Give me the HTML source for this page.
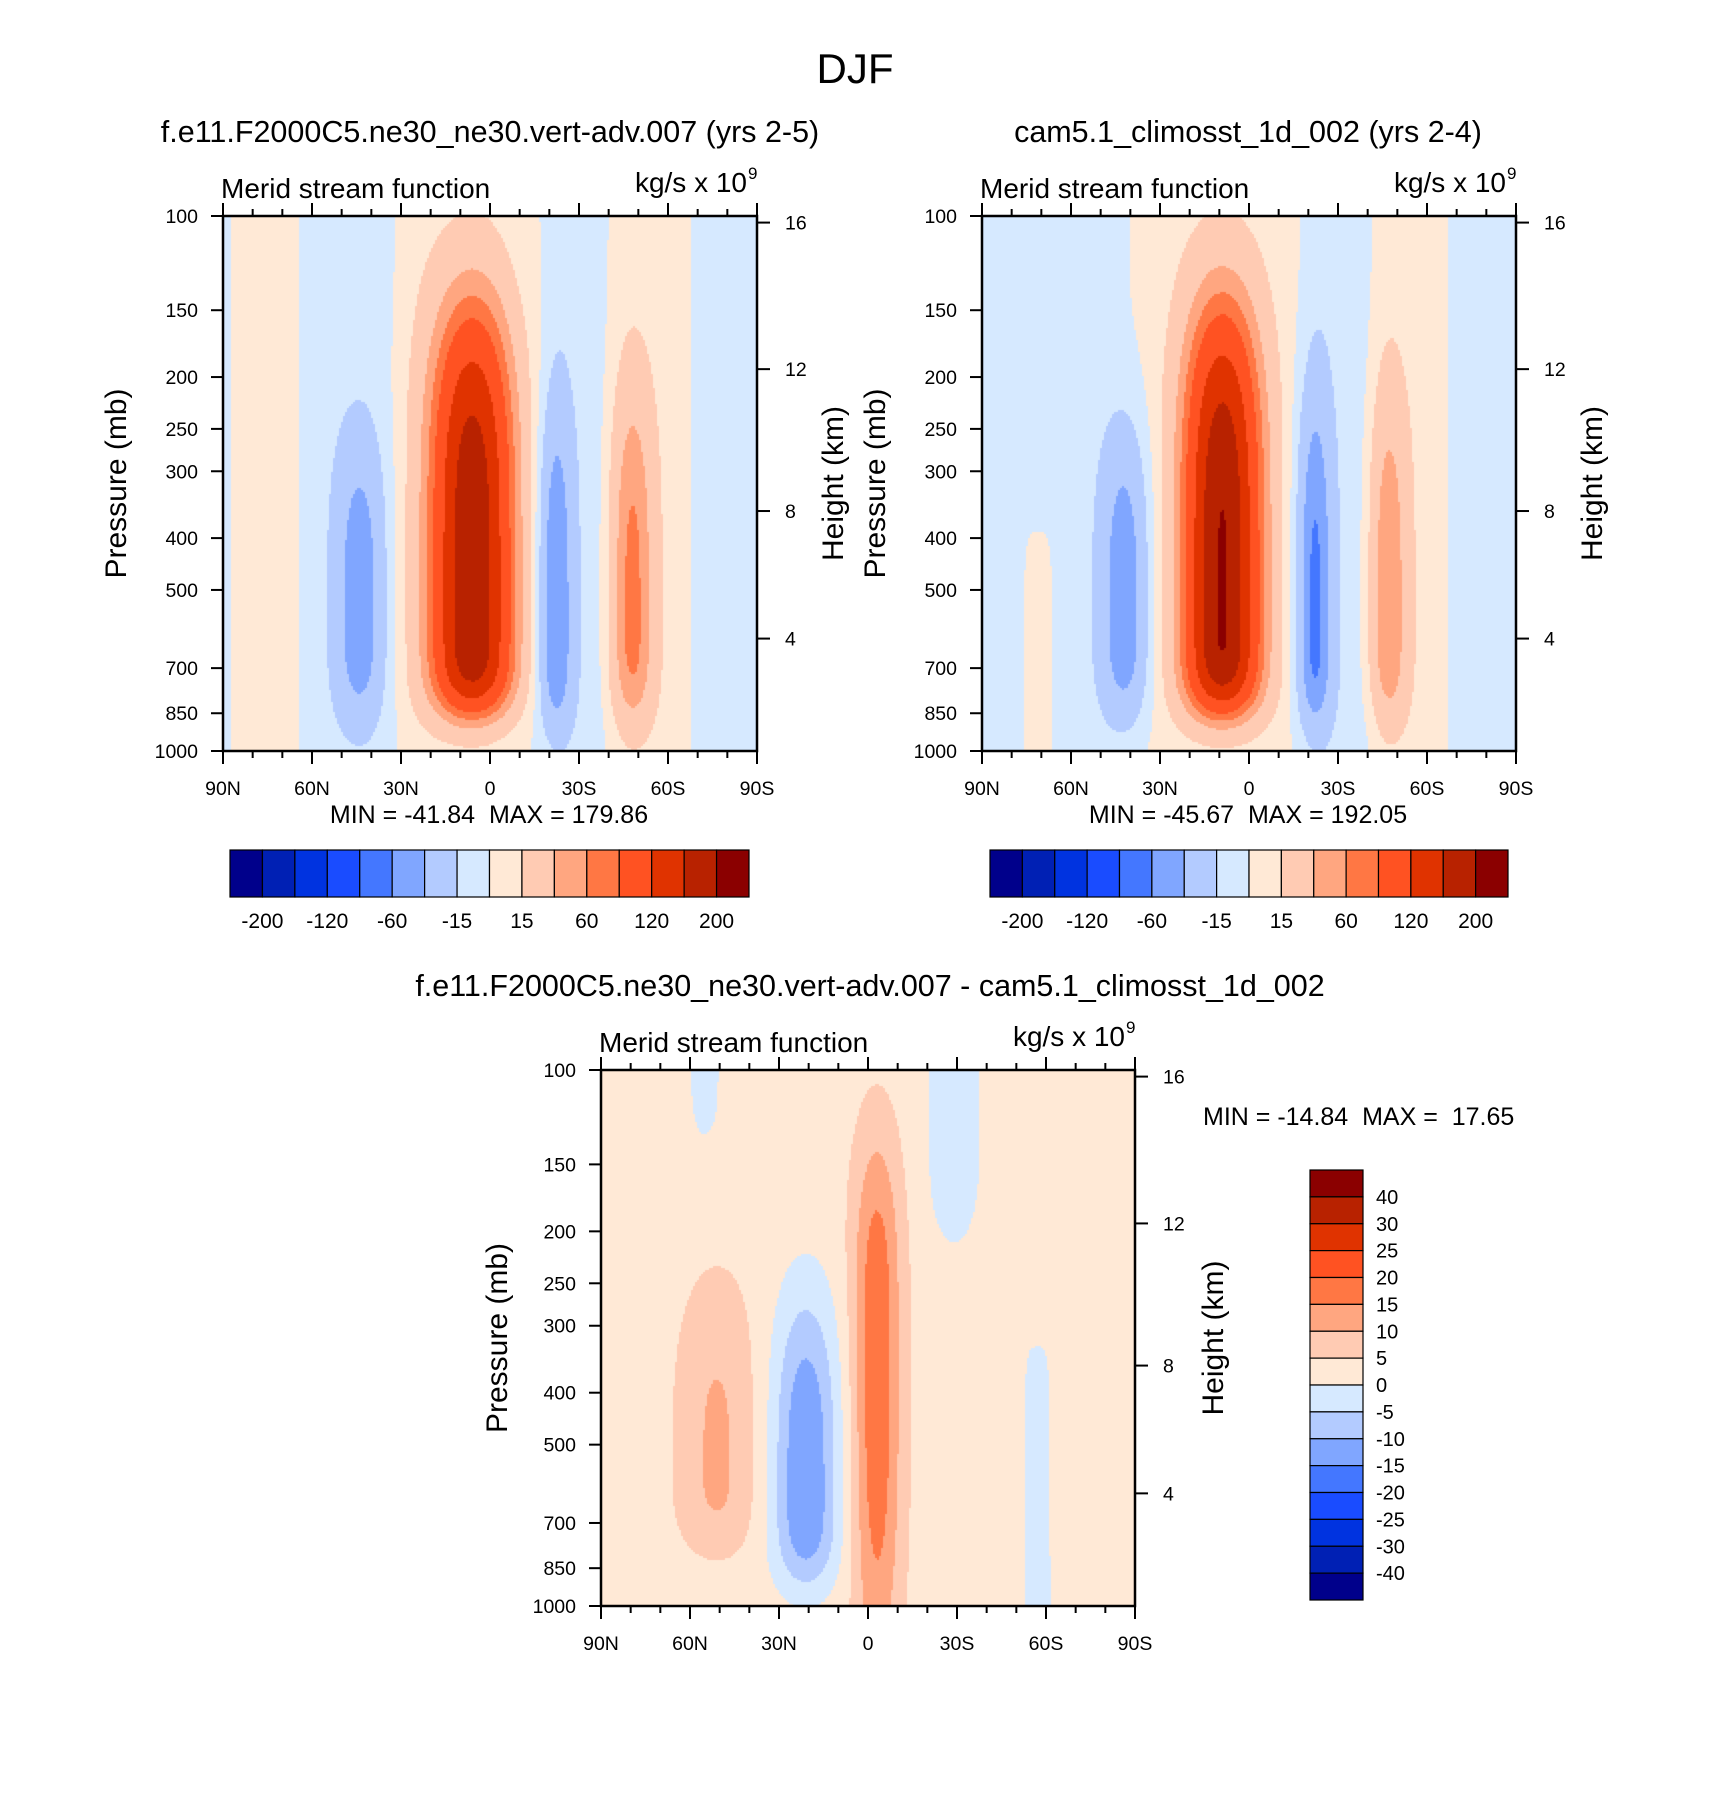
<!DOCTYPE html>
<html><head><meta charset="utf-8">
<style>
html,body{margin:0;padding:0;background:#fff;}
#wrap{position:relative;width:1710px;height:1819px;overflow:hidden;font-family:"Liberation Sans",sans-serif;}
canvas{position:absolute;}
svg{position:absolute;left:0;top:0;}
text{white-space:pre;}
</style></head>
<body>
<div id="wrap">
<canvas id="c1"></canvas>
<canvas id="c2"></canvas>
<canvas id="c3"></canvas>
<svg id="s" width="1710" height="1819"></svg>
</div>
<script>
// ---- data ----
const pressureTicks = [100,150,200,250,300,400,500,700,850,1000];
const heightTicks = [4,8,12,16];
const latTicks = [90,60,30,0,-30,-60,-90];
const latTickLabels = ["90N","60N","30N","0","30S","60S","90S"];
const levelsAbs = [-200,-160,-120,-80,-60,-40,-15,0,15,40,60,80,120,160,200];
const levelsDiff = [-40,-30,-25,-20,-15,-10,-5,0,5,10,15,20,25,30,40];
const barLabelsAbs = ["-200","-120","-60","-15","15","60","120","200"];
const barLabelsDiff = ["40","30","25","20","15","10","5","0","-5","-10","-15","-20","-25","-30","-40"];
const palette = ["#00008b","#0020b4","#0033e0","#1a4cff","#4477ff","#80a6ff","#b3cbff","#d6e9ff","#ffe9d6","#ffcbb3","#ffa680","#ff7744","#ff5222","#e03300","#b82200","#8b0000"];
// cell parameters: amplitude, lat centre, lat width, latExp, pressure centre, lnp width up, lnp width down, vertical exp
const m1Amp   = [185, -48, -55, 60,  8, -8, 8, -8, 8, -8, -8];
const m1Lat   = [6,   44, -22, -48, 76, 47, 12, -29, -54, -80, 90];
const m1LatW  = [13.5, 8,  6,   7,  11, 17, 22, 10, 13, 12, 3];
const m1LatN  = [2,   2,   2,   2,   4,  4,  4,  4,  4,  4, 2];
const m1P     = [560, 560, 600, 580, 400,400,400,400,400,400,400];
const m1Up    = [1.3, 0.75,1.0, 1.0, 3,3,3,3,3,3,3];
const m1Dn    = [0.42,0.45,0.42,0.42,3,3,3,3,3,3,3];
const m1N     = [4,3,3,3,4,4,4,4,4,4,4];

const m2Amp   = [195, -55, -60, 50, -8, 9, 8, -8, 8, -8];
const m2Lat   = [9,   42, -22, -47, 68, 71, 10, -30, -54, -80];
const m2LatW  = [12.5, 8,  6,   6.5, 22, 8, 24, 11, 12, 12];
const m2LatN  = [2,2,2,2,4,4,4,4,4,4];
const m2P     = [560, 560, 600, 580, 400, 700, 400,400,400,400];
const m2Up    = [1.3, 0.8, 1.05,1.0, 3, 1.0, 3,3,3,3];
const m2Dn    = [0.42,0.45,0.42,0.42,3, 1.5, 3,3,3,3];
const m2N     = [4,3,3,3,4,4,4,4,4,4];

const dAmp  = [3, 8, -18, 16, -7, -5, -6];
const dLat  = [0, 51, 21, -3, -29, -57, 55];
const dLatW = [300, 13, 11, 8, 9, 5, 5];
const dLatN = [2,2,2,2,2,4,2];
const dP    = [400, 560, 620, 330, 130, 600, 100];
const dUp   = [5, 0.8, 0.85, 0.9, 0.7, 0.7, 0.4];
const dDn   = [5, 0.35, 0.4, 1.4, 0.5, 2, 0.3];
const dN    = [2,3,3,3,3,4,3];

const NS='http://www.w3.org/2000/svg';
const svg=document.getElementById('s');
function el(tag,attrs,parent){const e=document.createElementNS(NS,tag);for(const k in attrs)e.setAttribute(k,attrs[k]);(parent||svg).appendChild(e);return e;}
function txt(x,y,s,size,anchor,parent,extra){const t=el('text',Object.assign({x:x,y:y,'font-size':size,'text-anchor':anchor||'start','font-family':'Liberation Sans, sans-serif',fill:'#000'},extra||{}),parent);t.textContent=s;return t;}

function field(lat,p,A,L,LW,LN,P,U,D,N){
  let v=0;const lp=Math.log(p);
  for(let i=0;i<A.length;i++){
    const dl=Math.abs((lat-L[i])/LW[i]);
    const dp=lp-Math.log(P[i]);
    const s=dp<0?U[i]:D[i];
    v+=A[i]*Math.exp(-Math.pow(dl,LN[i]))*Math.exp(-Math.pow(Math.abs(dp/s),N[i]));
  }
  return v;
}
function bin(v,levels){let k=0;while(k<levels.length&&v>=levels[k])k++;return k;}

function pToY(p,T,H){return T+H*Math.log10(p/100);}
function zToP(z){z*=1000;return z<=11000?1013.25*Math.pow(1-2.25577e-5*z,5.25588):226.32*Math.exp(-(z-11000)/6341.6);}

function drawFill(id,L,T,W,H,args,levels){
  const c=document.getElementById(id);c.width=W;c.height=H;c.style.left=L+'px';c.style.top=T+'px';
  const g=c.getContext('2d');const st=2;
  for(let y=0;y<H;y+=st){const p=100*Math.pow(10,(y+1)/H);
    for(let x=0;x<W;x+=st){const lat=90-180*(x+1)/W;
      const v=field(lat,p,...args);g.fillStyle=palette[bin(v,levels)];g.fillRect(x,y,st,st);}}
}

function drawAxes(name,L,T,W,H,presTitleX,htTitleX){
  const g=el('g',{});
  const R=L+W,B=T+H;
  const fr=el('rect',{x:L,y:T,width:W,height:H,fill:'none',stroke:'#000','stroke-width':2.5},g);
  
  pressureTicks.forEach(p=>{const y=pToY(p,T,H);
    el('line',{x1:L-12,x2:L,y1:y,y2:y,stroke:'#000','stroke-width':2},g);
    const t=txt(L-25,y+7,String(p),19.5,'end',g);});
  heightTicks.forEach(z=>{const y=pToY(zToP(z),T,H);
    el('line',{x1:R,x2:R+13,y1:y,y2:y,stroke:'#000','stroke-width':2},g);
    const t=txt(R+28,y+7,String(z),19.5,'start',g);});
  for(let lat=90;lat>=-90;lat-=10){const x=L+W*(90-lat)/180;const major=lat%30===0;const len=major?13:7;
    el('line',{x1:x,x2:x,y1:B,y2:B+len,stroke:'#000','stroke-width':2},g);
    el('line',{x1:x,x2:x,y1:T,y2:T-len,stroke:'#000','stroke-width':2},g);}
  latTicks.forEach((lat,i)=>{const x=L+W*(90-lat)/180;
    const t=txt(x,B+44,latTickLabels[i],19.5,'middle',g);});
  const m=txt(L-2,T-18,'Merid stream function',28,'start',g);
  const u=txt(R-10,T-24,'kg/s x 10',28,'end',g);
  txt(R-9,T-37,'9',17,'start',g);
  const pt=txt(0,0,'Pressure (mb)',30,'middle',g,{transform:`translate(${presTitleX},${T+H/2}) rotate(-90)`});
  
  const ht=txt(0,0,'Height (km)',30,'middle',g,{transform:`translate(${htTitleX},${T+H/2}) rotate(-90)`});
  
}

function hBar(name,x0,y0,w,h,labels){
  const g=el('g',{});const bw=w/16;
  palette.forEach((c,i)=>{const r=el('rect',{x:x0+i*bw,y:y0,width:bw,height:h,fill:c,stroke:'#000','stroke-width':1.2},g);
    });
  labels.forEach((s,j)=>{const i=1+2*j;const t=txt(x0+i*bw,y0+h+31,s,21,'middle',g);
    });
}
function vBar(name,x0,y0,w,h,labels){
  const g=el('g',{});const bh=h/16;
  palette.slice().reverse().forEach((c,i)=>{const r=el('rect',{x:x0,y:y0+i*bh,width:w,height:bh,fill:c,stroke:'#000','stroke-width':1.2},g);
    });
  labels.forEach((s,j)=>{const i=j+1;const t=txt(x0+w+13,y0+i*bh+7,s,20,'start',g);
    });
}

// plot 1
drawFill('c1',223,216,534,535,[m1Amp,m1Lat,m1LatW,m1LatN,m1P,m1Up,m1Dn,m1N],levelsAbs);
drawAxes('model1',223,216,534,535,126,843);
// plot 2
drawFill('c2',982,216,534,535,[m2Amp,m2Lat,m2LatW,m2LatN,m2P,m2Up,m2Dn,m2N],levelsAbs);
drawAxes('model2',982,216,534,535,885,1602);
// plot 3
drawFill('c3',601,1070,534,536,[dAmp,dLat,dLatW,dLatN,dP,dUp,dDn,dN],levelsDiff);
drawAxes('difference',601,1070,534,536,507,1223);

let t;
t=txt(855,83,'DJF',42,'middle');
t=txt(490,142,'f.e11.F2000C5.ne30_ne30.vert-adv.007 (yrs 2-5)',30.5,'middle');
t=txt(1248,142,'cam5.1_climosst_1d_002 (yrs 2-4)',30.5,'middle');
t=txt(870,996,'f.e11.F2000C5.ne30_ne30.vert-adv.007 - cam5.1_climosst_1d_002',30.5,'middle');
t=txt(489,823,'MIN = -41.84  MAX = 179.86',25,'middle');
t=txt(1248,823,'MIN = -45.67  MAX = 192.05',25,'middle');
t=txt(1203,1125,'MIN = -14.84  MAX =  17.65',25,'start');

hBar('model1-colorbar',230,850,519,47,barLabelsAbs);
hBar('model2-colorbar',990,850,518,47,barLabelsAbs);
vBar('difference-colorbar',1310,1170,53,430,barLabelsDiff);
</script>
</body></html>
